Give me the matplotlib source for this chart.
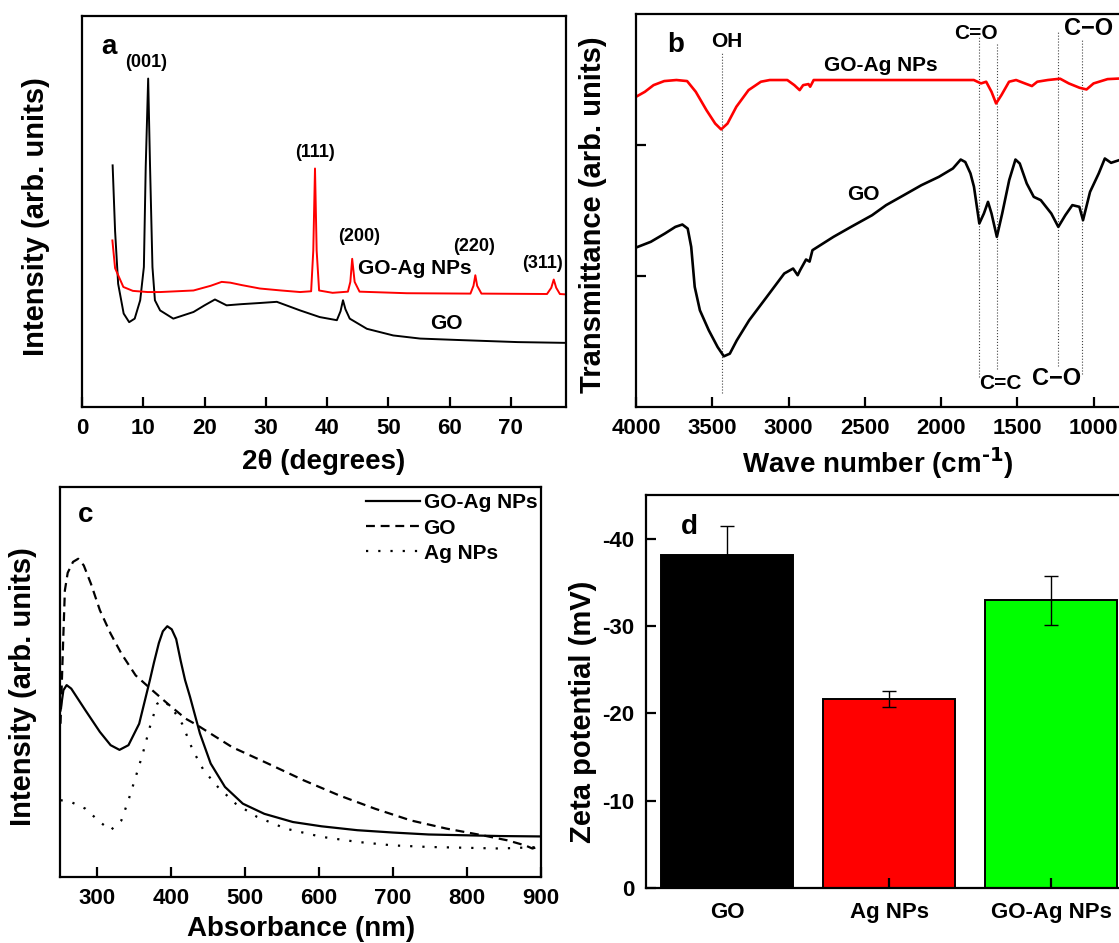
import matplotlib
matplotlib.use('Agg')
import matplotlib.pyplot as plt

plt.rcParams['font.family'] = ['Liberation Sans', 'DejaVu Sans']
plt.rcParams['font.weight'] = 'bold'
plt.rcParams['axes.labelweight'] = 'bold'

# ---------------- Panel a: XRD ----------------
xrd_go_2theta = [5.0, 5.4, 5.9, 6.8, 7.7, 8.6, 9.5, 10.1, 10.4, 10.8, 11.1, 11.5, 11.9, 12.75,
                 14.9, 18.2, 20.0, 21.7, 23.6, 26.0, 29.05, 31.8, 35.6, 38.8, 41.6, 42.2, 42.6,
                 43.0, 43.7, 46.5, 50.8, 55.2, 62.0, 71.1, 79.0]
xrd_go_int = [61.8, 45.0, 31.5, 23.9, 21.7, 22.6, 27.3, 35.8, 61.4, 84.0, 62.0, 35.8, 27.3, 24.7,
              22.6, 24.3, 26.0, 27.5, 26.0, 26.3, 26.6, 26.9, 24.7, 23.0, 22.2, 24.5, 27.3,
              25.0, 22.6, 20.0, 18.3, 17.5, 17.1, 16.6, 16.4]
xrd_goag_2theta = [4.96, 5.4, 6.75, 8.3, 10.7, 12.75, 18.2, 21.0, 22.8, 24.2, 26.0, 29.05, 32.5,
                   35.6, 37.4, 37.75, 38.03, 38.3, 38.7, 40.9, 43.4, 43.8, 44.1, 44.5, 45.3,
                   53.0, 63.4, 63.9, 64.2, 64.5, 65.2, 75.9, 76.6, 77.0, 77.4, 78.0, 79.0]
xrd_goag_int = [42.6, 35.5, 30.7, 29.7, 29.4, 29.4, 29.8, 31.0, 32.0, 31.8, 31.2, 30.3, 29.8,
                29.4, 29.6, 40.0, 61.0, 40.0, 29.8, 29.2, 29.5, 32.0, 37.9, 32.0, 29.5,
                29.1, 29.0, 31.0, 33.7, 31.0, 29.0, 28.9, 30.5, 32.6, 30.5, 28.9, 28.8]

# ---------------- Panel b: FTIR ----------------
ftir_goag_wn = [4000, 3942, 3885, 3815, 3735, 3665, 3608, 3538, 3481, 3442, 3400, 3342, 3262,
                3181, 3123, 3008, 2962, 2927, 2904, 2869, 2858, 2835, 1785, 1738, 1704, 1669,
                1639, 1604, 1554, 1508, 1450, 1404, 1369, 1300, 1219, 1162, 1092, 1046, 1000,
                908, 820]
ftir_goag_t = [2.368, 2.406, 2.457, 2.488, 2.496, 2.488, 2.406, 2.266, 2.164, 2.119, 2.164,
               2.292, 2.419, 2.483, 2.496, 2.496, 2.457, 2.419, 2.457, 2.465, 2.445, 2.496,
               2.496, 2.470, 2.483, 2.406, 2.317, 2.381, 2.483, 2.496, 2.470, 2.450, 2.483,
               2.496, 2.506, 2.470, 2.437, 2.424, 2.470, 2.503, 2.508]
ftir_go_wn = [4000, 3903, 3811, 3742, 3696, 3661, 3638, 3615, 3581, 3523, 3465, 3424, 3385,
              3339, 3258, 3143, 3028, 2970, 2940, 2924, 2885, 2862, 2843, 2705, 2590, 2452,
              2360, 2244, 2129, 2014, 1922, 1871, 1841, 1807, 1784, 1749, 1719, 1692, 1669,
              1634, 1599, 1553, 1512, 1484, 1438, 1392, 1346, 1277, 1231, 1185, 1139, 1093,
              1069, 1023, 966, 926, 885, 820]
ftir_go_t = [1.217, 1.261, 1.324, 1.375, 1.393, 1.362, 1.222, 0.917, 0.738, 0.586, 0.458,
             0.387, 0.407, 0.509, 0.662, 0.840, 1.019, 1.057, 1.006, 1.044, 1.126, 1.110,
             1.197, 1.299, 1.375, 1.464, 1.541, 1.617, 1.693, 1.757, 1.821, 1.889, 1.870,
             1.783, 1.681, 1.401, 1.477, 1.566, 1.477, 1.299, 1.477, 1.732, 1.889, 1.859,
             1.706, 1.604, 1.579, 1.477, 1.375, 1.464, 1.541, 1.528, 1.426, 1.642, 1.783,
             1.897, 1.864, 1.889]
ftir_marker_wn = [3438, 1749, 1634, 1231, 1074]
ftir_marker_lo = [0.11, 0.23, 0.29, 0.31, 0.25]
ftir_marker_hi = [2.70, 2.83, 2.77, 2.87, 2.80]

# ---------------- Panel c: UV-vis ----------------
uv_goag_nm = [250.7, 254.6, 259.0, 265.2, 284.5, 303.9, 318.4, 330.4, 342.5, 357.0, 371.5,
              377.0, 383.6, 389.0, 395.0, 401.0, 407.0, 413.0, 419.0, 425.7, 439.1, 453.6,
              472.9, 497.1, 526.1, 564.7, 603.4, 651.7, 700.0, 748.3, 796.6, 844.9, 900.0]
uv_goag_i = [42.7, 47.9, 49.2, 48.3, 42.7, 37.2, 33.8, 32.6, 33.8, 39.3, 50.5, 55.0, 60.0,
             63.0, 64.3, 63.5, 61.0, 55.5, 50.5, 46.2, 36.8, 29.1, 23.1, 18.8, 16.2, 14.1,
             13.0, 12.0, 11.4, 10.9, 10.7, 10.5, 10.4]
uv_go_nm = [250.7, 254.3, 256.6, 260.4, 267.6, 274.6, 282.1, 291.8, 303.9, 318.4, 332.9,
            352.2, 374.0, 395.7, 419.8, 434.8, 482.6, 530.9, 579.2, 627.5, 675.8, 724.2,
            772.5, 820.8, 854.6, 878.7, 888.4, 900.0]
uv_go_i = [39.3, 60.7, 73.5, 78.0, 80.8, 81.6, 79.9, 75.2, 68.4, 62.4, 57.3, 51.7, 48.0,
           44.4, 40.6, 39.0, 33.3, 29.1, 24.8, 20.9, 17.5, 14.5, 12.4, 10.7, 9.4, 8.1, 7.3,
           8.0]
uv_ag_nm = [250.7, 265.2, 284.5, 303.9, 318.4, 332.9, 342.5, 352.2, 361.8, 371.5, 381.2,
            388.4, 400.5, 415.0, 429.5, 444.0, 463.3, 487.4, 516.4, 555.1, 603.4, 651.7,
            700.0, 748.3, 796.6, 844.9, 900.0]
uv_ag_i = [19.7, 19.2, 17.5, 14.1, 12.0, 14.5, 19.7, 25.6, 31.6, 38.5, 44.4, 45.3, 43.6,
           39.3, 32.5, 27.4, 23.1, 18.8, 15.4, 12.4, 10.3, 9.0, 8.1, 7.7, 7.5, 7.3, 7.7]

# ---------------- Panel d: Zeta potential ----------------
zeta_labels = ['GO', 'Ag NPs', 'GO-Ag NPs']
zeta_values = [-38.1, -21.65, -32.95]
zeta_errors = [3.3, 0.95, 2.8]
zeta_colors = ['#000000', '#ff0000', '#00ff00']

W, H = 1119, 943
fig = plt.figure(figsize=(W / 100, H / 100), dpi=100)


def px_axes(left, top, right, bottom):
    return fig.add_axes([left / W, 1 - bottom / H, (right - left) / W, (bottom - top) / H])


TICK = dict(direction='in', length=7, width=1.6, labelsize=16, pad=8)

# ---- a ----
ax = px_axes(82, 16, 566, 407)
ax.plot(xrd_go_2theta, xrd_go_int, color='black', lw=1.4)
ax.plot(xrd_goag_2theta, xrd_goag_int, color='red', lw=1.4)
ax.set_xlim(0, 79)
ax.set_ylim(0, 100)
ax.set_xticks(range(0, 80, 10))
ax.set_yticks([])
ax.tick_params(axis='x', **TICK)
ax.text(4.4, 92, 'a', fontsize=20, ha='center', va='center')
ax.text(10.5, 88, '(001)', fontsize=13, ha='center', va='center')
ax.text(38.0, 65, '(111)', fontsize=13, ha='center', va='center')
ax.text(45.3, 43.5, '(200)', fontsize=13, ha='center', va='center')
ax.text(64.0, 41.0, '(220)', fontsize=13, ha='center', va='center')
ax.text(75.1, 36.6, '(311)', fontsize=13, ha='center', va='center')
ax.text(54.3, 35.3, 'GO-Ag NPs', fontsize=15, ha='center', va='center')
ax.text(59.5, 21.3, 'GO', fontsize=15, ha='center', va='center')
for s in ax.spines.values():
    s.set_linewidth(1.6)
fig.text(36 / W, 1 - 217 / H, 'Intensity (arb. units)', rotation=90, fontsize=21,
         ha='center', va='center')
fig.text(324 / W, 1 - 462 / H, '2θ (degrees)', fontsize=20, ha='center', va='center')

# ---- b ----
ax = px_axes(636, 14, 1121, 407)
for wn, lo, hi in zip(ftir_marker_wn, ftir_marker_lo, ftir_marker_hi):
    ax.plot([wn, wn], [lo, hi], color='#444444', lw=0.8, ls=':')
ax.plot(ftir_go_wn, ftir_go_t, color='black', lw=1.9)
ax.plot(ftir_goag_wn, ftir_goag_t, color='red', lw=1.9)
ax.set_xlim(4000, 820)
ax.set_ylim(0, 3)
ax.set_xticks([4000, 3500, 3000, 2500, 2000, 1500, 1000])
ax.set_yticks([1, 2])
ax.set_yticklabels([])
ax.tick_params(axis='x', **TICK)
ax.tick_params(axis='y', direction='in', length=7, width=1.6)
ax.text(3742, 2.76, 'b', fontsize=20, ha='center', va='center')
ax.text(3408, 2.79, 'OH', fontsize=15, ha='center', va='center')
ax.text(2394, 2.61, 'GO-Ag NPs', fontsize=15, ha='center', va='center')
ax.text(2509, 1.62, 'GO', fontsize=15, ha='center', va='center')
ax.text(1772, 2.85, 'C=O', fontsize=15, ha='center', va='center')
ax.text(1035, 2.89, 'C\u2212O', fontsize=17, ha='center', va='center')
ax.text(1611, 0.18, 'C=C', fontsize=15, ha='center', va='center')
ax.text(1242, 0.22, 'C\u2212O', fontsize=17, ha='center', va='center')
for s in ax.spines.values():
    s.set_linewidth(1.6)
fig.text(593 / W, 1 - 215 / H, 'Transmittance (arb. units)', rotation=90, fontsize=21,
         ha='center', va='center')
fig.text(878 / W, 1 - 463 / H, 'Wave number (cm$^{\\mathbf{\u2010 1}}$)', fontsize=20,
         ha='center', va='center')

# ---- c ----
ax = px_axes(60, 487, 541, 877)
ax.plot(uv_goag_nm, uv_goag_i, color='black', lw=1.6, label='GO-Ag NPs')
ax.plot(uv_go_nm, uv_go_i, color='black', lw=1.6, dashes=[4, 2.6], label='GO')
ax.plot(uv_ag_nm, uv_ag_i, color='black', lw=1.6, dashes=[1, 4.5], label='Ag NPs')
ax.set_xlim(250, 900)
ax.set_ylim(0, 100)
ax.set_xticks(range(300, 901, 100))
ax.set_yticks([])
ax.tick_params(axis='x', **TICK)
ax.text(284.8, 92.7, 'c', fontsize=20, ha='center', va='center')
ax.legend(loc='upper right', bbox_to_anchor=(1.005, 1.0), frameon=False, fontsize=15,
          handlelength=2.6, handletextpad=0.15, labelspacing=0.3, borderaxespad=0.2,
          borderpad=0.1)
for s in ax.spines.values():
    s.set_linewidth(1.6)
fig.text(23 / W, 1 - 687 / H, 'Intensity (arb. units)', rotation=90, fontsize=21,
         ha='center', va='center')
fig.text(301 / W, 1 - 929 / H, 'Absorbance (nm)', fontsize=20, ha='center', va='center')

# ---- d ----
ax = px_axes(645.6, 495, 1121, 888)
xpos = list(range(len(zeta_labels)))
ax.bar(xpos, zeta_values, width=0.81, color=zeta_colors, edgecolor='black', linewidth=1.4,
       yerr=zeta_errors, error_kw=dict(ecolor='black', elinewidth=1.0, capsize=5,
                                       capthick=1.0))
ax.set_xlim(-0.5025, 2.432)
ax.set_ylim(0, -45)
ax.set_xticks(xpos)
ax.set_xticklabels(zeta_labels)
ax.set_yticks([0, -10, -20, -30, -40])
ax.set_yticklabels(['0', '-10', '-20', '-30', '-40'])
ax.tick_params(axis='both', **TICK)
ax.tick_params(axis='x', pad=10)
ax.text(-0.23, -41.3, 'd', fontsize=20, ha='center', va='center')
for s in ax.spines.values():
    s.set_linewidth(1.6)
fig.text(583 / W, 1 - 712 / H, 'Zeta potential (mV)', rotation=90, fontsize=21,
         ha='center', va='center')

fig.savefig('out.png', dpi=100)
